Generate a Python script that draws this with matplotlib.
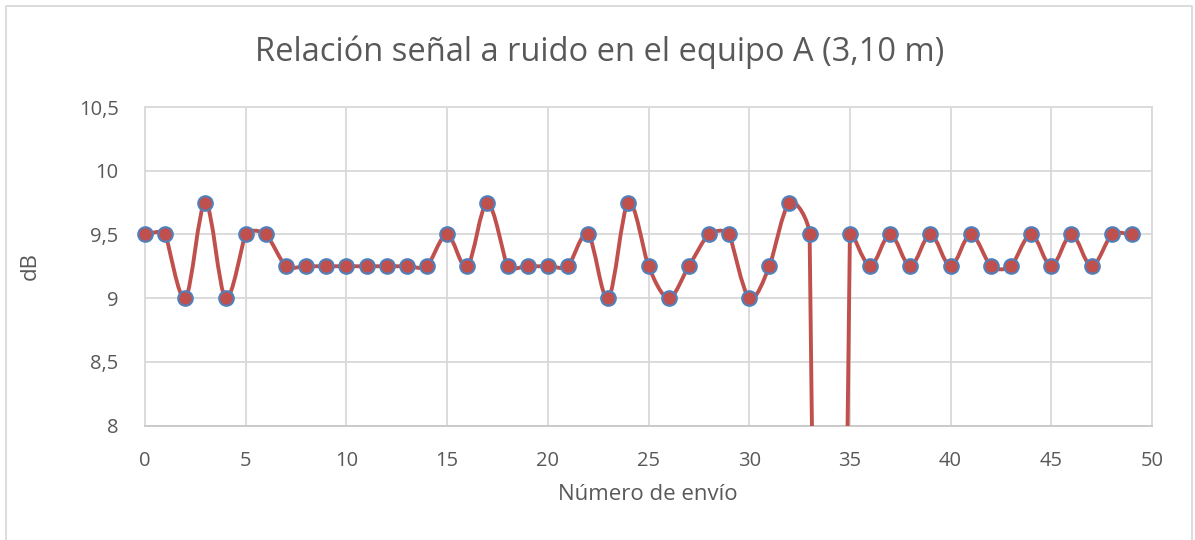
import numpy as np
import matplotlib
matplotlib.use("Agg")
import matplotlib.pyplot as plt
from matplotlib.path import Path
from matplotlib.patches import PathPatch

plt.rcParams['font.family'] = ['Open Sans', 'DejaVu Sans']

# Número de envío vs SNR (dB); envío 34 cae fuera de la escala
envio = list(range(50))
snr_db = [9.5, 9.5, 9.0, 9.75, 9.0, 9.5, 9.5, 9.25, 9.25, 9.25,
          9.25, 9.25, 9.25, 9.25, 9.25, 9.5, 9.25, 9.75, 9.25, 9.25,
          9.25, 9.25, 9.5, 9.0, 9.75, 9.25, 9.0, 9.25, 9.5, 9.5,
          9.0, 9.25, 9.75, 9.5, 0.0, 9.5, 9.25, 9.5, 9.25, 9.5,
          9.25, 9.5, 9.25, 9.25, 9.5, 9.25, 9.5, 9.25, 9.5, 9.5]

xticks = [0, 5, 10, 15, 20, 25, 30, 35, 40, 45, 50]
yticks = [8, 8.5, 9, 9.5, 10, 10.5]
ytick_labels = ['8', '8,5', '9', '9,5', '10', '10,5']

title = 'Relación señal a ruido en el equipo A (3,10 m)'
xlabel = 'Número de envío'
ylabel = 'dB'

text_col = '#595959'
grid_col = '#D9D9D9'
line_col = '#C0504D'
edge_col = '#4F81BD'

W, H = 1195, 540
fig = plt.figure(figsize=(W / 100, H / 100), dpi=100)
fig.patch.set_facecolor('white')

left, right, top, bottom = 145, 1152, 107, 425.5
ax = fig.add_axes([left / W, (H - bottom) / H, (right - left) / W, (bottom - top) / H])
ax.set_xlim(0, 50)
ax.set_ylim(8, 10.5)
ax.set_xticks(xticks)
ax.set_yticks(yticks)
ax.set_yticklabels(ytick_labels)
ax.tick_params(length=0, labelsize=14.5, colors=text_col)
ax.tick_params(axis='y', pad=19)
ax.tick_params(axis='x', pad=18)
ax.grid(True, color=grid_col, linewidth=1.3)
ax.set_axisbelow(True)
for s in ax.spines.values():
    s.set_color(grid_col)
    s.set_linewidth(1.3)
ax.spines['bottom'].set_color('#C8C8C8')

# Excel-like smoothed line: cubic Bezier computed in screen space
P = ax.transData.transform(np.column_stack([envio, snr_db]))
n = len(P)
tang = np.zeros_like(P)
for i in range(n):
    a = P[max(i - 1, 0)]
    b = P[min(i + 1, n - 1)]
    d = b - a
    L = np.hypot(*d)
    chords = []
    if i > 0:
        chords.append(np.hypot(*(P[i] - P[i - 1])))
    if i < n - 1:
        chords.append(np.hypot(*(P[i + 1] - P[i])))
    s = min(1.0, 2 * min(chords) / L) if L > 0 else 0
    tang[i] = d / 6 * s

verts = [P[0]]
codes = [Path.MOVETO]
for i in range(n - 1):
    verts += [P[i] + tang[i], P[i + 1] - tang[i + 1], P[i + 1]]
    codes += [Path.CURVE4] * 3
verts = ax.transData.inverted().transform(np.array(verts))
ax.add_patch(PathPatch(Path(verts, codes), fill=False, edgecolor=line_col,
                       linewidth=2.8, capstyle='round', joinstyle='round', zorder=3))

ax.plot(envio, snr_db, linestyle='none', marker='o', markersize=10.5,
        markerfacecolor=line_col, markeredgecolor=edge_col, markeredgewidth=1.5,
        zorder=4, clip_on=False)

fig.text(600 / W, 1 - 52 / H, title, ha='center', va='center', fontsize=23.5, color=text_col)
fig.text(648 / W, 1 - 495 / H, xlabel, ha='center', va='center', fontsize=16, color=text_col)
fig.text(30 / W, 1 - 266 / H, ylabel, ha='center', va='center', fontsize=16,
         color=text_col, rotation=90)

# chart border
fig.add_artist(plt.Line2D([6 / W, 6 / W, 1192 / W, 1192 / W], [0, 1 - 6 / H, 1 - 6 / H, 0],
                          transform=fig.transFigure, color=grid_col, linewidth=1.3))

fig.savefig('out.png', dpi=100)
